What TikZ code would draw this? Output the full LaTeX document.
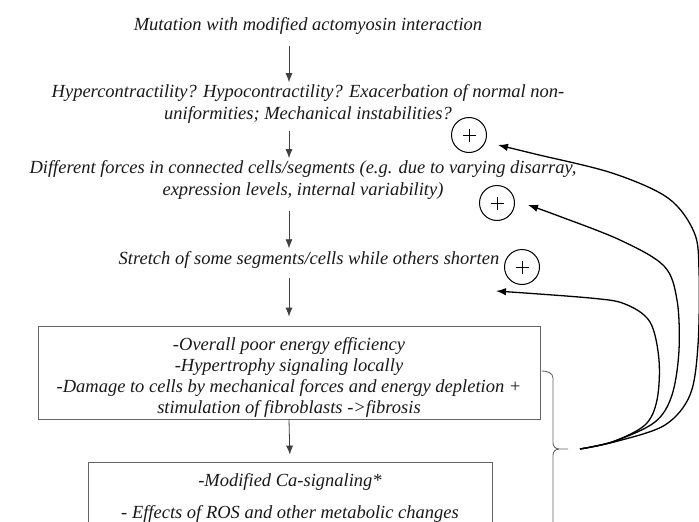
\documentclass[tikz,border=0pt]{standalone}
\usepackage{fontspec}
\setmainfont{Liberation Serif}
\usetikzlibrary{arrows.meta,calc}
\begin{document}
\begin{tikzpicture}[x=1pt,y=-1pt,
  txt/.style={font=\fontsize{18.5}{21.3}\selectfont\itshape, align=center, inner sep=0pt, text=black!90},
  box/.style={draw=black!60, line width=0.8pt, inner sep=0pt},
  varr/.style={draw=black!75, line width=0.8pt, -{Latex[length=9pt,width=7pt]}},
  fb/.style={line width=1.3pt, -{Latex[length=10pt,width=7.5pt]}},
  brc/.style={draw=black!60, line width=0.9pt},
  pluscirc/.style={circle, draw, line width=1pt, minimum size=35pt, inner sep=0pt,
    path picture={\draw[line width=0.6pt]
      ($(path picture bounding box.center)+(-6.5pt,0pt)$) -- +(13pt,0pt)
      ($(path picture bounding box.center)+(0pt,-6.5pt)$) -- +(0pt,13pt);}},
]
\clip (0,0) rectangle (699,522);
\fill[white] (0,0) rectangle (699,522);

\coordinate (col) at (289,0);

\node[txt] (t1) at (308,25.5) {Mutation with modified actomyosin interaction};
\node[txt] (t2) at (308,104) {Hypercontractility? Hypocontractility? Exacerbation of normal non-\\uniformities; Mechanical instabilities?};
\node[txt] (t3) at (303,180) {Different forces in connected cells/segments (e.g. due to varying disarray,\\expression levels, internal variability)};
\node[txt] (t4) at (309,259.5) {Stretch of some segments/cells while others shorten};

\node[box, minimum width=502pt, minimum height=93pt] (b1) at (289,372.5) {};
\node[txt] (b1t) at (289,377.5) {-Overall poor energy efficiency\\-Hypertrophy signaling locally\\-Damage to cells by mechanical forces and energy depletion +\\stimulation of fibroblasts ->fibrosis};

\node[box, minimum width=404pt, minimum height=80pt] (b2) at (290,502) {};
\node[txt] (b2t) at (290,498) {-Modified Ca-signaling*\\[10.5pt]- Effects of ROS and other metabolic changes};

\node[pluscirc] (p1) at (469,135) {};
\node[pluscirc] (p2) at (497,203) {};
\node[pluscirc] (p3) at (522,267) {};

% vertical arrows
\draw[varr, shorten <=12.2pt, shorten >=2.5pt] (t1.south -| col) -- (t2.north -| col);
\draw[varr, shorten <=7.2pt, shorten >=2.5pt] (t2.south -| col) -- (t3.north -| col);
\draw[varr, shorten <=11.2pt, shorten >=2.5pt] (t3.south -| col) -- (t4.north -| col);
\draw[varr, shorten <=10.2pt, shorten >=9pt] (t4.south -| col) -- (b1.north -| col);
\draw[varr, shorten >=7pt] (b1.south) -- (b2.north);

% brace
\coordinate (bt) at (542,371);
\coordinate (bm) at (568,449);
\draw[brc] (bt) to[out=0,in=90] (553,378) -- (553,443) to[out=-90,in=180] (559,449) -- (bm);
\draw[brc] (559,449) to[out=180,in=90] (553,455) -- (553,540);

% feedback curves
\coordinate (src) at (580,449);
\coordinate (tipA) at ($(p1.east)+(11,10)$);
\coordinate (tipB) at ($(p2.east)+(13,2)$);
\coordinate (tipC) at ($(p3.south)+(-26,6)$);

\draw[fb] plot[smooth, tension=0.55] coordinates {(src) (618,441) (665,425) (690,395) (698,345) (699,270) (694,232) (668,198) (612,173) (535,154) (tipA)};
\draw[fb] plot[smooth, tension=0.55] coordinates {(src) (615,441) (655,422) (672,395) (679,350) (677,300) (664,266) (620,240) (556,215) (tipB)};
\draw[fb] plot[smooth, tension=0.55] coordinates {(src) (612,442) (645,425) (657,400) (659,360) (650,322) (625,304) (590,298) (tipC)};
\end{tikzpicture}
\end{document}
